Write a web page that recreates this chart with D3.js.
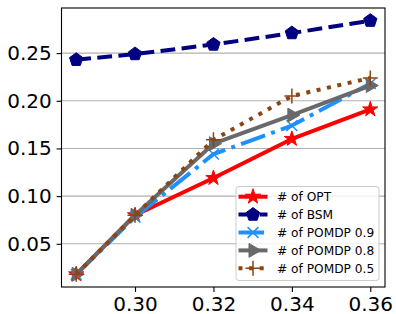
<!DOCTYPE html>
<html><head><meta charset="utf-8">
<script src="https://cdn.jsdelivr.net/npm/d3@7"></script>
<style>html,body{margin:0;padding:0;background:#fff;}svg{display:block;font-family:"DejaVu Sans",sans-serif;}</style>
</head><body>
<svg id="chart" width="396" height="314"></svg>
<script>
const xValues = [0.285, 0.30, 0.32, 0.34, 0.36];
const seriesNames = ["# of OPT", "# of BSM", "# of POMDP 0.9", "# of POMDP 0.8", "# of POMDP 0.5"];
const optValues = [0.018, 0.080, 0.119, 0.160, 0.191];
const bsmValues = [0.243, 0.249, 0.259, 0.271, 0.284];
const pomdp09Values = [0.018, 0.078, 0.144, 0.174, 0.218];
const pomdp08Values = [0.018, 0.080, 0.155, 0.185, 0.216];
const pomdp05Values = [0.018, 0.080, 0.159, 0.205, 0.224];
const xTicks = [0.30, 0.32, 0.34, 0.36];
const yTicks = [0.05, 0.10, 0.15, 0.20, 0.25];

const series = [
  {name: seriesNames[0], values: optValues, color: "#ff0000", dash: null, marker: "star"},
  {name: seriesNames[1], values: bsmValues, color: "#000080", dash: "14.8,6.4", marker: "pentagon"},
  {name: seriesNames[2], values: pomdp09Values, color: "#1e90ff", dash: "25.6,6.4,4,6.4", marker: "x"},
  {name: seriesNames[3], values: pomdp08Values, color: "#696969", dash: null, marker: "tri"},
  {name: seriesNames[4], values: pomdp05Values, color: "#8b4513", dash: "4,6.6", marker: "plus"}
];

const svg = d3.select("#chart");
const L = 61.5, R = 385, T = 8, B = 287;
const x = d3.scaleLinear().domain([0.28125, 0.36375]).range([L, R]);
const y = d3.scaleLinear().domain([0.0047, 0.2973]).range([B, T]);

// grid
svg.append("g").selectAll("line").data(yTicks).join("line")
  .attr("x1", L).attr("x2", R).attr("y1", d => y(d)).attr("y2", d => y(d))
  .attr("stroke", "#b0b0b0").attr("stroke-width", 1.1);

// axes
const xAxis = d3.axisBottom(x).tickValues(xTicks).tickFormat(d3.format(".2f")).tickSize(4.9).tickPadding(4.9);
const yAxis = d3.axisLeft(y).tickValues(yTicks).tickFormat(d3.format(".2f")).tickSize(4.9).tickPadding(4.9);
const gx = svg.append("g").attr("transform", `translate(0,${B})`).call(xAxis);
const gy = svg.append("g").attr("transform", `translate(${L},0)`).call(yAxis);
[gx, gy].forEach(g => {
  g.select(".domain").remove();
  g.selectAll("line").attr("stroke", "#000").attr("stroke-width", 1.1);
  g.selectAll("text").attr("font-size", 20).attr("fill", "#000").attr("font-family", "DejaVu Sans");
});

function markerPath(type, s) {
  const p = d3.path();
  if (type === "star") {
    const ro = s, ri = s * 0.38;
    for (let i = 0; i < 10; i++) {
      const r = i % 2 ? ri : ro, a = -Math.PI / 2 + i * Math.PI / 5;
      i ? p.lineTo(r * Math.cos(a), r * Math.sin(a)) : p.moveTo(r * Math.cos(a), r * Math.sin(a));
    }
    p.closePath();
  } else if (type === "pentagon") {
    for (let i = 0; i < 5; i++) {
      const a = -Math.PI / 2 + i * 2 * Math.PI / 5;
      i ? p.lineTo(s * Math.cos(a), s * Math.sin(a)) : p.moveTo(s * Math.cos(a), s * Math.sin(a));
    }
    p.closePath();
  } else if (type === "tri") {
    p.moveTo(s, 0); p.lineTo(-s * 0.5, -s * 0.87); p.lineTo(-s * 0.5, s * 0.87); p.closePath();
  } else if (type === "x") {
    const h = s * 0.72;
    p.moveTo(-h, -h); p.lineTo(h, h); p.moveTo(-h, h); p.lineTo(h, -h);
  } else if (type === "plus") {
    p.moveTo(-s, 0); p.lineTo(s, 0); p.moveTo(0, -s); p.lineTo(0, s);
  }
  return p.toString();
}
const markerSize = {star: 8, pentagon: 7, tri: 8, x: 7.5, plus: 7.5};
function drawMarker(g, m, color, cx, cy) {
  const stroked = (m === "x" || m === "plus");
  g.append("path").attr("d", markerPath(m, markerSize[m]))
    .attr("transform", `translate(${cx},${cy})`)
    .attr("fill", stroked ? "none" : color)
    .attr("stroke", color).attr("stroke-width", stroked ? 1.5 : 1);
}

const line = d3.line().x((d, i) => x(xValues[i])).y(d => y(d));
const plot = svg.append("g");
series.forEach(s => {
  const g = plot.append("g");
  g.append("path").datum(s.values).attr("d", line)
    .attr("fill", "none").attr("stroke", s.color).attr("stroke-width", 4)
    .attr("stroke-dasharray", s.dash).attr("stroke-linejoin", "round");
  s.values.forEach((v, i) => drawMarker(g, s.marker, s.color, x(xValues[i]), y(v)));
});

// frame
svg.append("rect").attr("x", L).attr("y", T).attr("width", R - L).attr("height", B - T)
  .attr("fill", "none").attr("stroke", "#000").attr("stroke-width", 1.1);

// legend
const lg = svg.append("g");
lg.append("rect").attr("x", 236).attr("y", 186.5).attr("width", 143).attr("height", 94).attr("rx", 3)
  .attr("fill", "#fff").attr("fill-opacity", 0.8).attr("stroke", "#cccccc").attr("stroke-width", 1);
series.forEach((s, i) => {
  const cy = 196.7 + i * 17.9;
  lg.append("line").attr("x1", 238.5).attr("x2", 267.5).attr("y1", cy).attr("y2", cy)
    .attr("stroke", s.color).attr("stroke-width", 4).attr("stroke-dasharray", s.dash);
  drawMarker(lg, s.marker, s.color, 253, cy);
  lg.append("text").attr("x", 277).attr("y", cy).attr("dy", "0.36em")
    .attr("font-size", 12.2).attr("fill", "#000").text(s.name);
});
</script>
</body></html>
